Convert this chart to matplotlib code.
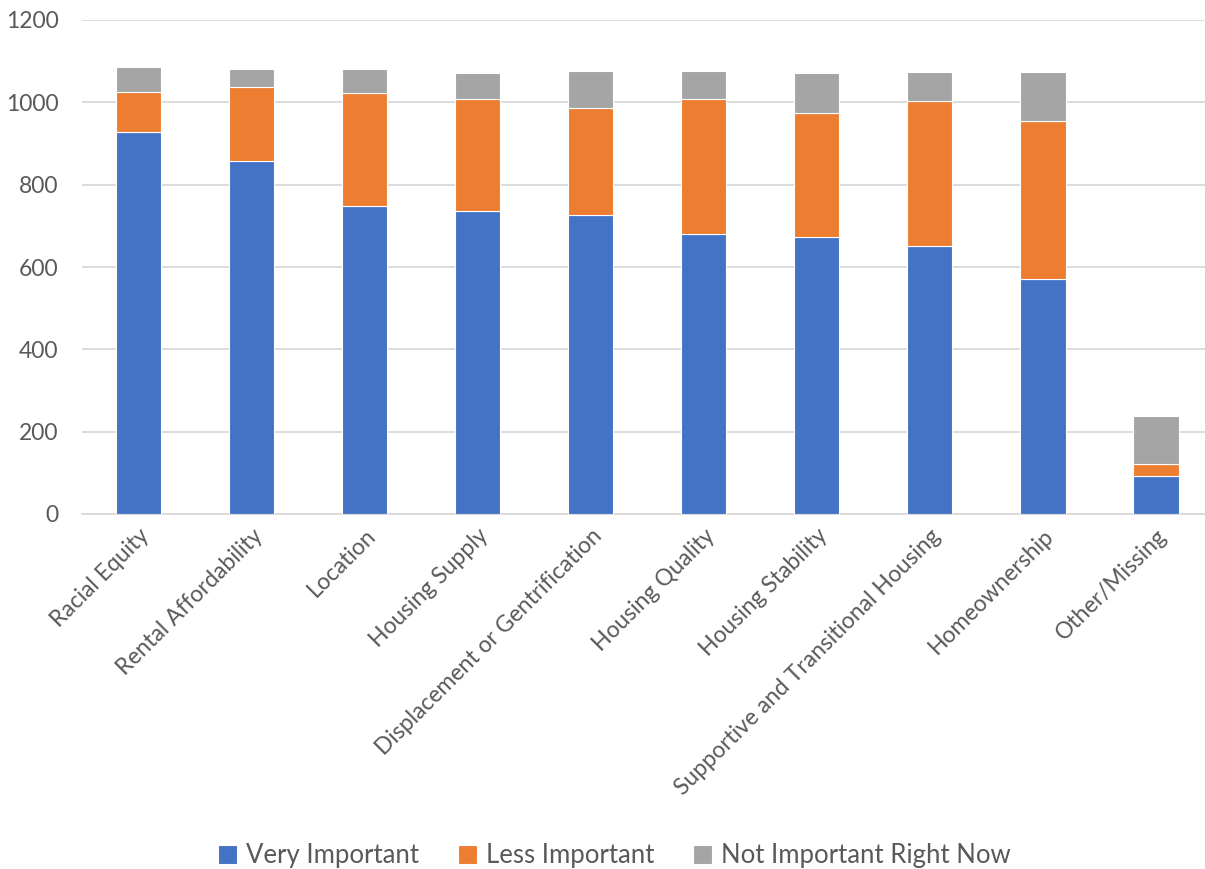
import numpy as np
import matplotlib
matplotlib.use("Agg")
import matplotlib.pyplot as plt

categories = ["Racial Equity", "Rental Affordability", "Location", "Housing Supply",
              "Displacement or Gentrification", "Housing Quality", "Housing Stability",
              "Supportive and Transitional Housing", "Homeownership", "Other/Missing"]
very_important = [929, 858, 748, 736, 726, 680, 673, 651, 571, 93]
less_important = [97, 180, 275, 272, 260, 328, 301, 352, 384, 29]
not_important = [61, 42, 58, 63, 90, 68, 97, 71, 118, 115]

plt.rcParams['font.family'] = ['Lato', 'DejaVu Sans']

fig = plt.figure(figsize=(12.05, 8.69), dpi=100)
ax = fig.add_axes([82 / 1205, 1 - 514 / 869, (1212.5 - 82) / 1205, (514 - 20) / 869])

x = np.arange(len(categories))
w = 0.4
vi = np.array(very_important)
li = np.array(less_important)
ni = np.array(not_important)
ax.bar(x, vi, w, color="#4472C4", edgecolor="white", linewidth=0.8, label="Very Important", zorder=3)
ax.bar(x, li, w, bottom=vi, color="#ED7D31", edgecolor="white", linewidth=0.8, label="Less Important", zorder=3)
ax.bar(x, ni, w, bottom=vi + li, color="#A5A5A5", edgecolor="white", linewidth=0.8,
       label="Not Important Right Now", zorder=3)

ax.set_xlim(-0.5, len(categories) - 0.5)
ax.set_ylim(0, 1200)
ax.set_yticks(np.arange(0, 1201, 200))
ax.yaxis.grid(True, color="#D9D9D9", linewidth=1.3, zorder=0)
for s in ["top", "right", "left"]:
    ax.spines[s].set_visible(False)
ax.spines["bottom"].set_color("#D9D9D9")
ax.spines["bottom"].set_linewidth(1.3)
ax.tick_params(axis="both", length=0, labelsize=16.5, labelcolor="#595959")
ax.tick_params(axis="y", pad=17)
ax.tick_params(axis="x", pad=8)
ax.set_xticks(x)
ax.set_xticklabels(categories, rotation=45, ha="right", rotation_mode="anchor")

fig.legend(loc="lower center", bbox_to_anchor=(0.51, -0.026), ncol=3, frameon=False,
           fontsize=18.5, labelcolor="#595959", handlelength=0.75, handleheight=0.75,
           columnspacing=1.5, handletextpad=0.35)

fig.savefig("out.png", dpi=100)
